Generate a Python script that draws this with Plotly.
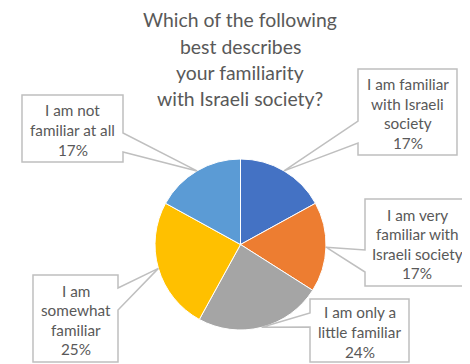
import math
import plotly.graph_objects as go

# ---- data ----
categories = [
    "I am familiar with Israeli society",
    "I am very familiar with Israeli society",
    "I am only a little familiar",
    "I am somewhat familiar",
    "I am not familiar at all",
]
values = [17, 17, 24, 25, 17]
label_lines = [
    ["I am familiar", "with Israeli", "society"],
    ["I am very", "familiar with", "Israeli society"],
    ["I am only a", "little familiar"],
    ["I am", "somewhat", "familiar"],
    ["I am not", "familiar at all"],
]
title_lines = ["Which of the following", "best describes", "your familiarity", "with Israeli society?"]
colors = ["#4472C4", "#ED7D31", "#A5A5A5", "#FFC000", "#5B9BD5"]

# ---- layout helpers (pixel geometry in window coordinates) ----
OFF = 8  # page body margin
W, H = 470 - OFF, 364 - OFF
CX, CY, R = 240.5, 244.5, 85.5
TEXT = "#595959"
BORDER = "#BFBFBF"
FONT = "Lato"

def px(x):
    return (x - OFF) / W

def py(y):
    return 1 - (y - OFF) / H

# callout boxes: (left, top, right, bottom, side, wedge y1, wedge y2)
boxes = [
    (358, 69, 457, 155, "left", 121, 143),
    (365, 199, 469, 286, "left", 250, 272),
    (310, 299, 409, 362, "left", 313, 327),
    (33, 275, 118, 362, "right", 288, 310),
    (22, 95, 123, 162, "right", 133, 152),
]

fig = go.Figure(go.Pie(
    labels=categories, values=values, sort=False, direction="clockwise", rotation=0,
    marker=dict(colors=colors, line=dict(color="white", width=1)),
    textinfo="none", hoverinfo="label+percent", showlegend=False,
    domain=dict(x=[px(CX - R), px(CX + R)], y=[py(CY + R), py(CY - R)]),
))

shapes = []
annotations = []
total = sum(values)
cum = 0
for i, v in enumerate(values):
    mid = (cum + v / 2) / total * 2 * math.pi
    cum += v
    tx = CX + R * math.sin(mid)
    ty = CY - R * math.cos(mid)
    l, t, r, b, side, w1, w2 = boxes[i]
    if side == "left":
        pts = [(l, t), (r, t), (r, b), (l, b), (l, w2), (tx, ty), (l, w1)]
    else:
        pts = [(l, t), (r, t), (r, w1), (tx, ty), (r, w2), (r, b), (l, b)]
    path = "M " + " L ".join(f"{px(x):.5f},{py(y):.5f}" for x, y in pts) + " Z"
    shapes.append(dict(type="path", path=path, xref="paper", yref="paper",
                       fillcolor="white", line=dict(color=BORDER, width=1.5), layer="above"))
    lines = label_lines[i] + [f"{round(v / total * 100)}%"]
    n = len(lines)
    cxb = (l + r) / 2
    cyb = (t + b) / 2 + 1.5
    sp = 19.6
    for k, s in enumerate(lines):
        yy = cyb + (k - (n - 1) / 2) * sp
        annotations.append(dict(text=s, x=px(cxb), y=py(yy), xref="paper", yref="paper",
                                showarrow=False, xanchor="center", yanchor="middle",
                                font=dict(family=FONT, size=15.3, color=TEXT)))

for k, s in enumerate(title_lines):
    yy = 20 + k * 26.3
    annotations.append(dict(text=s, x=px(240), y=py(yy), xref="paper", yref="paper",
                            showarrow=False, xanchor="center", yanchor="middle",
                            font=dict(family=FONT, size=19.4, color=TEXT)))

fig.update_layout(
    width=W, height=H, margin=dict(l=0, r=0, t=0, b=0),
    paper_bgcolor="white", plot_bgcolor="white",
    shapes=shapes, annotations=annotations,
)
fig.write_html("out.html")
